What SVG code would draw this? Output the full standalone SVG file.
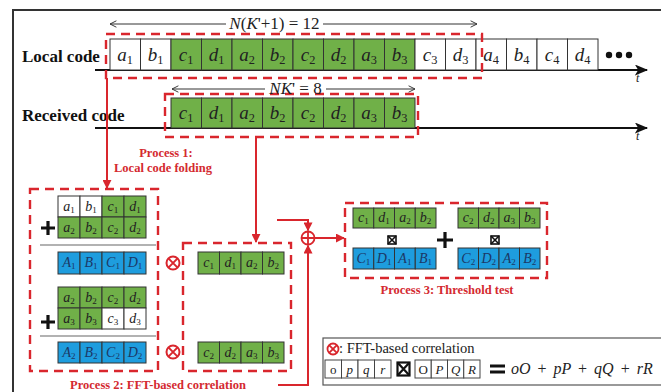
<svg xmlns="http://www.w3.org/2000/svg" width="661" height="392" viewBox="0 0 661 392">
<defs>
<style>
.cell{stroke:#333;stroke-width:1}
.w{fill:#fff}
.g{fill:#70b048}
.b{fill:#1e9dde}
.ct{font-family:"Liberation Serif",serif;font-style:italic;fill:#222;text-anchor:middle}
.big{font-size:19px}
.sm{font-size:14px}
.bt{fill:#1c3866}
.s{font-style:normal;font-size:65%}
.lbl{font-family:"Liberation Serif",serif;font-weight:bold;font-size:17px;fill:#111}
.red{font-family:"Liberation Serif",serif;font-weight:bold;font-size:12.5px;fill:#d42a30;text-anchor:middle}
.dash{fill:none;stroke:#d9262d;stroke-width:2.4;stroke-dasharray:9 6}
.rl{fill:none;stroke:#d9262d;stroke-width:2}
.ax{stroke:#111;stroke-width:2}
.dim{stroke:#333;stroke-width:1;fill:none}
.sep{stroke:#666;stroke-width:1.2}
.math{font-family:"Liberation Serif",serif;fill:#222}
</style>
<marker id="ra" viewBox="0 0 10 10" refX="9" refY="5" markerWidth="9" markerHeight="9" markerUnits="userSpaceOnUse" orient="auto"><path d="M0,0L10,5L0,10z" fill="#d9262d"/></marker>
<marker id="ka" viewBox="0 0 12 10" refX="11" refY="5" markerWidth="14" markerHeight="11" markerUnits="userSpaceOnUse" orient="auto"><path d="M0,0L12,5L0,10L3,5z" fill="#111"/></marker>
<marker id="oa" viewBox="0 0 10 10" refX="9" refY="5" markerWidth="8" markerHeight="8" markerUnits="userSpaceOnUse" orient="auto-start-reverse"><path d="M1,1L9,5L1,9" fill="none" stroke="#333" stroke-width="1.2"/></marker>
</defs>
<rect width="661" height="392" fill="#fff"/>
<path d="M13,392V10H661" fill="none" stroke="#333" stroke-width="2"/>

<g id="local-code">
<text x="22" y="62" class="lbl">Local code</text>
<line x1="95" y1="70" x2="647" y2="70" class="ax" marker-end="url(#ka)"/>
<text x="636" y="82" class="math" font-style="italic" font-size="12">t</text>
<rect x="110" y="39" width="30.5" height="31" class="cell w"/>
<rect x="140.5" y="39" width="30.5" height="31" class="cell w"/>
<rect x="171" y="39" width="30.5" height="31" class="cell g"/>
<rect x="201.5" y="39" width="30.5" height="31" class="cell g"/>
<rect x="232" y="39" width="30.5" height="31" class="cell g"/>
<rect x="262.5" y="39" width="30.5" height="31" class="cell g"/>
<rect x="293" y="39" width="30.5" height="31" class="cell g"/>
<rect x="323.5" y="39" width="30.5" height="31" class="cell g"/>
<rect x="354" y="39" width="30.5" height="31" class="cell g"/>
<rect x="384.5" y="39" width="30.5" height="31" class="cell g"/>
<rect x="415" y="39" width="30.5" height="31" class="cell w"/>
<rect x="445.5" y="39" width="30.5" height="31" class="cell w"/>
<rect x="476" y="39" width="30.5" height="31" class="cell w"/>
<rect x="506.5" y="39" width="30.5" height="31" class="cell w"/>
<rect x="537" y="39" width="30.5" height="31" class="cell w"/>
<rect x="567.5" y="39" width="30.5" height="31" class="cell w"/>
<g class="ct big">
<text x="125" y="61">a<tspan class="s" dy="3">1</tspan></text>
<text x="155.5" y="61">b<tspan class="s" dy="3">1</tspan></text>
<text x="186" y="61">c<tspan class="s" dy="3">1</tspan></text>
<text x="216.5" y="61">d<tspan class="s" dy="3">1</tspan></text>
<text x="247" y="61">a<tspan class="s" dy="3">2</tspan></text>
<text x="277.5" y="61">b<tspan class="s" dy="3">2</tspan></text>
<text x="308" y="61">c<tspan class="s" dy="3">2</tspan></text>
<text x="338.5" y="61">d<tspan class="s" dy="3">2</tspan></text>
<text x="369" y="61">a<tspan class="s" dy="3">3</tspan></text>
<text x="399.5" y="61">b<tspan class="s" dy="3">3</tspan></text>
<text x="430" y="61">c<tspan class="s" dy="3">3</tspan></text>
<text x="460.5" y="61">d<tspan class="s" dy="3">3</tspan></text>
<text x="491" y="61">a<tspan class="s" dy="3">4</tspan></text>
<text x="521.5" y="61">b<tspan class="s" dy="3">4</tspan></text>
<text x="552" y="61">c<tspan class="s" dy="3">4</tspan></text>
<text x="582.5" y="61">d<tspan class="s" dy="3">4</tspan></text>
</g>
<circle cx="609" cy="55" r="3.2" fill="#111"/>
<circle cx="619" cy="55" r="3.2" fill="#111"/>
<circle cx="629" cy="55" r="3.2" fill="#111"/>
<rect x="106" y="34" width="376" height="44" class="dash"/>
<line x1="226" y1="24" x2="110" y2="24" class="dim" marker-end="url(#oa)"/>
<line x1="323" y1="24" x2="477" y2="24" class="dim" marker-end="url(#oa)"/>
<text x="274.5" y="29" class="math" font-size="17" text-anchor="middle"><tspan font-style="italic">N</tspan>(<tspan font-style="italic">K</tspan>'+1) = 12</text>
</g>

<g id="received-code">
<text x="22" y="121" class="lbl">Received code</text>
<line x1="95" y1="128" x2="647" y2="128" class="ax" marker-end="url(#ka)"/>
<text x="636" y="140" class="math" font-style="italic" font-size="12">t</text>
<rect x="171" y="98" width="30.5" height="30" class="cell g"/>
<rect x="201.5" y="98" width="30.5" height="30" class="cell g"/>
<rect x="232" y="98" width="30.5" height="30" class="cell g"/>
<rect x="262.5" y="98" width="30.5" height="30" class="cell g"/>
<rect x="293" y="98" width="30.5" height="30" class="cell g"/>
<rect x="323.5" y="98" width="30.5" height="30" class="cell g"/>
<rect x="354" y="98" width="30.5" height="30" class="cell g"/>
<rect x="384.5" y="98" width="30.5" height="30" class="cell g"/>
<g class="ct big">
<text x="186" y="119">c<tspan class="s" dy="3">1</tspan></text>
<text x="216.5" y="119">d<tspan class="s" dy="3">1</tspan></text>
<text x="247" y="119">a<tspan class="s" dy="3">2</tspan></text>
<text x="277.5" y="119">b<tspan class="s" dy="3">2</tspan></text>
<text x="308" y="119">c<tspan class="s" dy="3">2</tspan></text>
<text x="338.5" y="119">d<tspan class="s" dy="3">2</tspan></text>
<text x="369" y="119">a<tspan class="s" dy="3">3</tspan></text>
<text x="399.5" y="119">b<tspan class="s" dy="3">3</tspan></text>
</g>
<rect x="165" y="94" width="253" height="43" class="dash"/>
<line x1="265" y1="89" x2="172" y2="89" class="dim" marker-end="url(#oa)"/>
<line x1="326" y1="89" x2="415" y2="89" class="dim" marker-end="url(#oa)"/>
<text x="295.5" y="94" class="math" font-size="17" text-anchor="middle"><tspan font-style="italic">NK</tspan>' = 8</text>
</g>

<g id="process1-label">
<text x="166" y="157" class="red">Process 1:</text>
<text x="163" y="172" class="red">Local code folding</text>
</g>

<g id="process2-folding">
<rect x="30" y="189" width="128" height="182" class="dash"/>
<rect x="58" y="196" width="22" height="21" class="cell w"/>
<rect x="80" y="196" width="22" height="21" class="cell w"/>
<rect x="102" y="196" width="22" height="21" class="cell g"/>
<rect x="124" y="196" width="22" height="21" class="cell g"/>
<rect x="58" y="217" width="22" height="21" class="cell g"/>
<rect x="80" y="217" width="22" height="21" class="cell g"/>
<rect x="102" y="217" width="22" height="21" class="cell g"/>
<rect x="124" y="217" width="22" height="21" class="cell g"/>
<rect x="58" y="252" width="22" height="22" class="cell b"/>
<rect x="80" y="252" width="22" height="22" class="cell b"/>
<rect x="102" y="252" width="22" height="22" class="cell b"/>
<rect x="124" y="252" width="22" height="22" class="cell b"/>
<rect x="58" y="287" width="22" height="21" class="cell g"/>
<rect x="80" y="287" width="22" height="21" class="cell g"/>
<rect x="102" y="287" width="22" height="21" class="cell g"/>
<rect x="124" y="287" width="22" height="21" class="cell g"/>
<rect x="58" y="308" width="22" height="21" class="cell g"/>
<rect x="80" y="308" width="22" height="21" class="cell g"/>
<rect x="102" y="308" width="22" height="21" class="cell w"/>
<rect x="124" y="308" width="22" height="21" class="cell w"/>
<rect x="58" y="342" width="22" height="21" class="cell b"/>
<rect x="80" y="342" width="22" height="21" class="cell b"/>
<rect x="102" y="342" width="22" height="21" class="cell b"/>
<rect x="124" y="342" width="22" height="21" class="cell b"/>
<g class="ct sm">
<text x="69" y="211">a<tspan class="s" dy="2">1</tspan></text>
<text x="91" y="211">b<tspan class="s" dy="2">1</tspan></text>
<text x="113" y="211">c<tspan class="s" dy="2">1</tspan></text>
<text x="135" y="211">d<tspan class="s" dy="2">1</tspan></text>
<text x="69" y="232">a<tspan class="s" dy="2">2</tspan></text>
<text x="91" y="232">b<tspan class="s" dy="2">2</tspan></text>
<text x="113" y="232">c<tspan class="s" dy="2">2</tspan></text>
<text x="135" y="232">d<tspan class="s" dy="2">2</tspan></text>
<text x="69" y="302">a<tspan class="s" dy="2">2</tspan></text>
<text x="91" y="302">b<tspan class="s" dy="2">2</tspan></text>
<text x="113" y="302">c<tspan class="s" dy="2">2</tspan></text>
<text x="135" y="302">d<tspan class="s" dy="2">2</tspan></text>
<text x="69" y="323">a<tspan class="s" dy="2">3</tspan></text>
<text x="91" y="323">b<tspan class="s" dy="2">3</tspan></text>
<text x="113" y="323">c<tspan class="s" dy="2">3</tspan></text>
<text x="135" y="323">d<tspan class="s" dy="2">3</tspan></text>
</g>
<g class="ct sm bt" font-size="13">
<text x="69" y="267">A<tspan class="s" dy="2">1</tspan></text>
<text x="91" y="267">B<tspan class="s" dy="2">1</tspan></text>
<text x="113" y="267">C<tspan class="s" dy="2">1</tspan></text>
<text x="135" y="267">D<tspan class="s" dy="2">1</tspan></text>
<text x="69" y="357">A<tspan class="s" dy="2">2</tspan></text>
<text x="91" y="357">B<tspan class="s" dy="2">2</tspan></text>
<text x="113" y="357">C<tspan class="s" dy="2">2</tspan></text>
<text x="135" y="357">D<tspan class="s" dy="2">2</tspan></text>
</g>
<path d="M41,228h14M48,221v14M41,322h14M48,315v14" stroke="#111" stroke-width="3.2"/>
<line x1="40" y1="245" x2="156" y2="245" class="sep"/>
<line x1="40" y1="336" x2="156" y2="336" class="sep"/>
<g fill="none" stroke="#d9262d" stroke-width="2">
<circle cx="173" cy="263" r="6.5"/><path d="M168.4,258.4l9.2,9.2M177.6,258.4l-9.2,9.2"/>
<circle cx="173" cy="352" r="6.5"/><path d="M168.4,347.4l9.2,9.2M177.6,347.4l-9.2,9.2"/>
</g>
</g>

<g id="process2-received">
<rect x="183" y="243" width="108" height="128" class="dash"/>
<rect x="198" y="252" width="21.5" height="22" class="cell g"/>
<rect x="219.5" y="252" width="21.5" height="22" class="cell g"/>
<rect x="241" y="252" width="21.5" height="22" class="cell g"/>
<rect x="262.5" y="252" width="21.5" height="22" class="cell g"/>
<rect x="198" y="342" width="21.5" height="21" class="cell g"/>
<rect x="219.5" y="342" width="21.5" height="21" class="cell g"/>
<rect x="241" y="342" width="21.5" height="21" class="cell g"/>
<rect x="262.5" y="342" width="21.5" height="21" class="cell g"/>
<g class="ct sm">
<text x="208.75" y="267">c<tspan class="s" dy="2">1</tspan></text>
<text x="230.25" y="267">d<tspan class="s" dy="2">1</tspan></text>
<text x="251.75" y="267">a<tspan class="s" dy="2">2</tspan></text>
<text x="273.25" y="267">b<tspan class="s" dy="2">2</tspan></text>
<text x="208.75" y="357">c<tspan class="s" dy="2">2</tspan></text>
<text x="230.25" y="357">d<tspan class="s" dy="2">2</tspan></text>
<text x="251.75" y="357">a<tspan class="s" dy="2">3</tspan></text>
<text x="273.25" y="357">b<tspan class="s" dy="2">3</tspan></text>
</g>
<text x="158" y="389" class="red">Process 2: FFT-based correlation</text>
</g>

<g id="process3">
<rect x="345" y="203" width="202" height="75" class="dash"/>
<rect x="353" y="208" width="20.75" height="20" class="cell g"/>
<rect x="373.75" y="208" width="20.75" height="20" class="cell g"/>
<rect x="394.5" y="208" width="20.75" height="20" class="cell g"/>
<rect x="415.25" y="208" width="20.75" height="20" class="cell g"/>
<rect x="458" y="208" width="20.5" height="20" class="cell g"/>
<rect x="478.5" y="208" width="20.5" height="20" class="cell g"/>
<rect x="499" y="208" width="20.5" height="20" class="cell g"/>
<rect x="519.5" y="208" width="20.5" height="20" class="cell g"/>
<rect x="353" y="248" width="20.75" height="21" class="cell b"/>
<rect x="373.75" y="248" width="20.75" height="21" class="cell b"/>
<rect x="394.5" y="248" width="20.75" height="21" class="cell b"/>
<rect x="415.25" y="248" width="20.75" height="21" class="cell b"/>
<rect x="458" y="248" width="20.5" height="21" class="cell b"/>
<rect x="478.5" y="248" width="20.5" height="21" class="cell b"/>
<rect x="499" y="248" width="20.5" height="21" class="cell b"/>
<rect x="519.5" y="248" width="20.5" height="21" class="cell b"/>
<g class="ct sm">
<text x="363.4" y="222">c<tspan class="s" dy="2">1</tspan></text>
<text x="384.1" y="222">d<tspan class="s" dy="2">1</tspan></text>
<text x="404.9" y="222">a<tspan class="s" dy="2">2</tspan></text>
<text x="425.6" y="222">b<tspan class="s" dy="2">2</tspan></text>
<text x="468.25" y="222">c<tspan class="s" dy="2">2</tspan></text>
<text x="488.75" y="222">d<tspan class="s" dy="2">2</tspan></text>
<text x="509.25" y="222">a<tspan class="s" dy="2">3</tspan></text>
<text x="529.75" y="222">b<tspan class="s" dy="2">3</tspan></text>
</g>
<g class="ct sm bt" font-size="13">
<text x="363.4" y="263">C<tspan class="s" dy="2">1</tspan></text>
<text x="384.1" y="263">D<tspan class="s" dy="2">1</tspan></text>
<text x="404.9" y="263">A<tspan class="s" dy="2">1</tspan></text>
<text x="425.6" y="263">B<tspan class="s" dy="2">1</tspan></text>
<text x="468.25" y="263">C<tspan class="s" dy="2">2</tspan></text>
<text x="488.75" y="263">D<tspan class="s" dy="2">2</tspan></text>
<text x="509.25" y="263">A<tspan class="s" dy="2">2</tspan></text>
<text x="529.75" y="263">B<tspan class="s" dy="2">2</tspan></text>
</g>
<g fill="none" stroke="#111" stroke-width="1.6">
<rect x="388" y="236" width="8" height="8"/><path d="M388,236l8,8M396,236l-8,8"/>
<rect x="491" y="236" width="8" height="8"/><path d="M491,236l8,8M499,236l-8,8"/>
</g>
<path d="M437,240h16M445,232v16" stroke="#111" stroke-width="3.2"/>
<text x="447" y="294" class="red">Process 3: Threshold test</text>
</g>

<g id="legend">
<rect x="323" y="338" width="350" height="47" fill="#fff" stroke="#555" stroke-width="1.2"/>
<g fill="none" stroke="#d9262d" stroke-width="1.8">
<circle cx="333" cy="349" r="5.5"/><path d="M329.1,345.1l7.8,7.8M336.9,345.1l-7.8,7.8"/>
</g>
<text x="339" y="353" class="math" font-size="14.5">: FFT-based correlation</text>
<g stroke="#444" stroke-width="1" fill="#fff">
<rect x="325" y="360" width="16.5" height="18"/>
<rect x="341.5" y="360" width="16.5" height="18"/>
<rect x="358" y="360" width="16.5" height="18"/>
<rect x="374.5" y="360" width="16.5" height="18"/>
<rect x="415" y="360" width="16.25" height="18"/>
<rect x="431.25" y="360" width="16.25" height="18"/>
<rect x="447.5" y="360" width="16.25" height="18"/>
<rect x="463.75" y="360" width="16.25" height="18"/>
</g>
<g class="math" font-size="13" text-anchor="middle">
<text x="333.25" y="374">o</text>
<text x="349.75" y="374" font-style="italic">p</text>
<text x="366.25" y="374" font-style="italic">q</text>
<text x="382.75" y="374" font-style="italic">r</text>
<text x="423.1" y="374">O</text>
<text x="439.4" y="374" font-style="italic">P</text>
<text x="455.6" y="374" font-style="italic">Q</text>
<text x="471.9" y="374" font-style="italic">R</text>
</g>
<g fill="none" stroke="#111" stroke-width="2.2">
<rect x="397.5" y="362.5" width="12" height="13"/><path d="M397.5,362.5l12,13M409.5,362.5l-12,13"/>
</g>
<rect x="490" y="364.5" width="15" height="3" fill="#111"/>
<rect x="490" y="370.5" width="15" height="3" fill="#111"/>
<text x="511" y="374" class="math" font-size="16" font-style="italic" word-spacing="3">oO <tspan font-style="normal">+</tspan> pP <tspan font-style="normal">+</tspan> qQ <tspan font-style="normal">+</tspan> rR</text>
</g>

<g id="connectors">
<line x1="107" y1="78" x2="107" y2="188" class="rl" marker-end="url(#ra)"/>
<line x1="256" y1="137" x2="256" y2="242" class="rl" marker-end="url(#ra)"/>
<polyline points="277,220 308,220 308,230.5" class="rl" marker-end="url(#ra)"/>
<polyline points="278,385 308,385 308,245.5" class="rl" marker-end="url(#ra)"/>
<line x1="314.5" y1="238" x2="344" y2="238" class="rl" marker-end="url(#ra)"/>
<g fill="none" stroke="#d9262d" stroke-width="1.8">
<circle cx="308" cy="238" r="6.5"/><path d="M301.5,238h13M308,231.5v13"/>
</g>
</g>
</svg>
